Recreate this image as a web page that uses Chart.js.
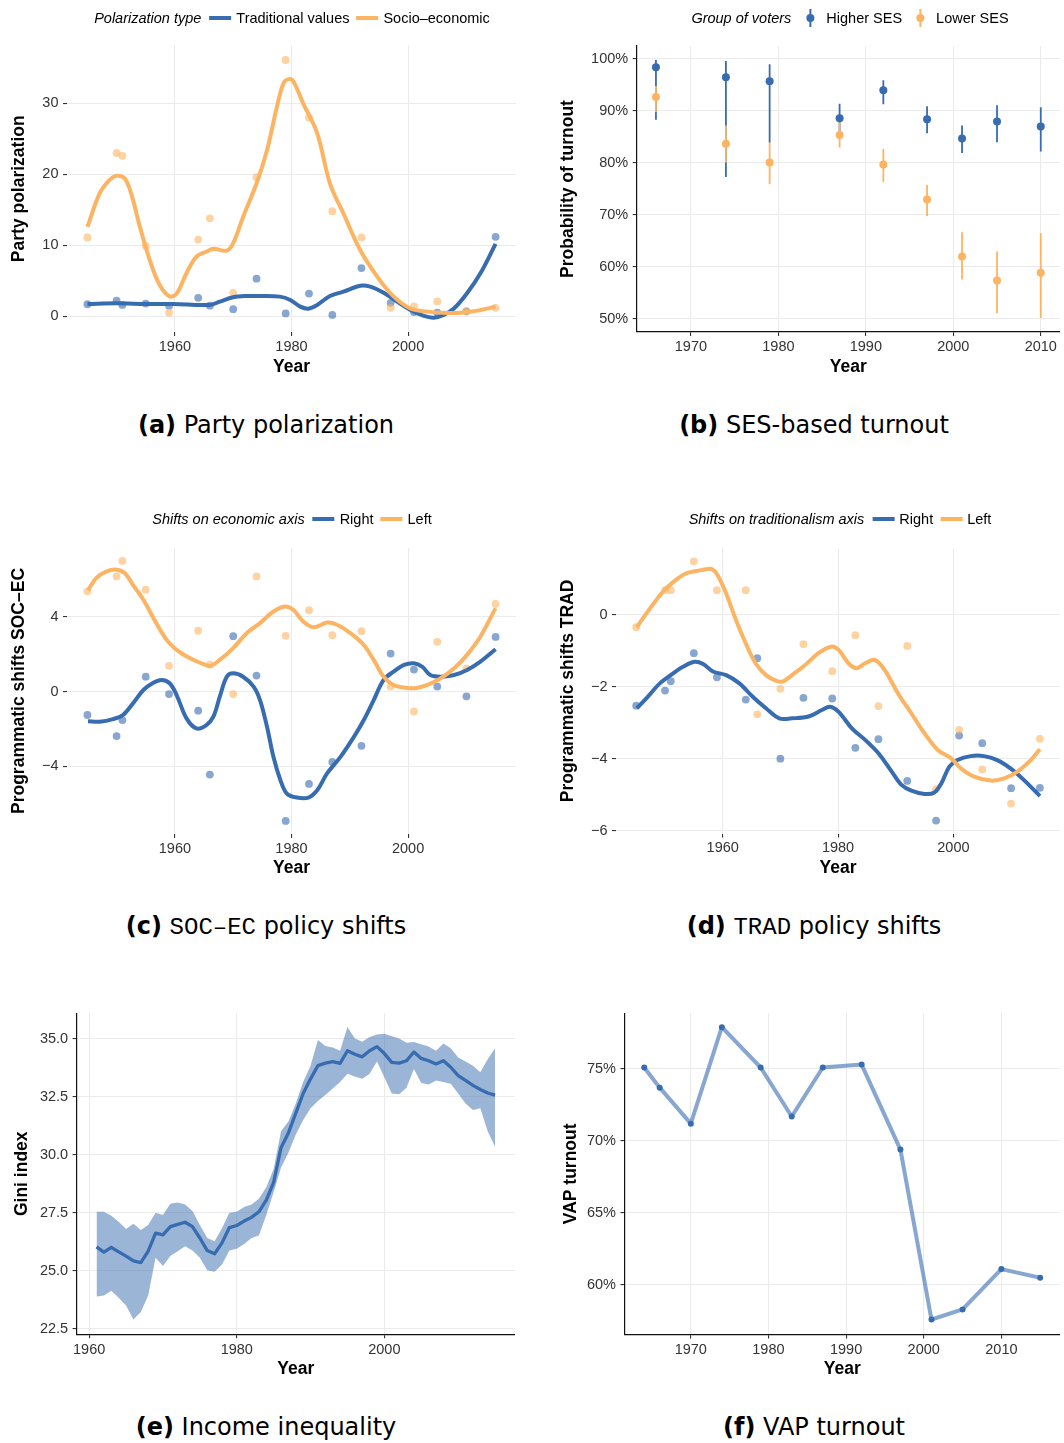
<!DOCTYPE html>
<html>
<head>
<meta charset="utf-8">
<title>Polarization, turnout and inequality</title>
<script src="https://cdn.jsdelivr.net/npm/chart.js@4.4.1/dist/chart.umd.min.js"></script>
<style>
  html, body { margin: 0; padding: 0; background: #fff; }
  #page { position: relative; width: 1064px; height: 1443px; overflow: hidden; font-family: 'Liberation Sans', Arial, sans-serif; }
  #page canvas { position: absolute; }
  .legend { position: absolute; display: flex; align-items: center; white-space: nowrap; font-size: 14.5px; color: #000; transform: translate(-50%, -50%); }
  .legend .ttl { font-style: italic; margin-right: 8px; }
  .legend .key { display: inline-block; width: 22px; height: 4px; margin-right: 5px; }
  .legend .lab { margin-right: 7px; }
  .legend .lab:last-child { margin-right: 0; }
  .legend .ekey { position: relative; display: inline-block; width: 22px; height: 18px; margin-right: 5px; }
  .legend .ekey::before { content: ''; position: absolute; left: 10px; top: 0; width: 2px; height: 18px; background: var(--c); }
  .legend .ekey::after { content: ''; position: absolute; left: 7px; top: 5px; width: 8px; height: 8px; border-radius: 50%; background: var(--c); }
  .caption { position: absolute; transform: translate(-50%, -50%); font-family: 'DejaVu Sans', sans-serif; font-size: 24px; white-space: nowrap; color: #000; }
  .caption .tt { font-family: 'Liberation Mono', monospace; }
</style>
</head>
<body>
<div id="page">
  <canvas id="chartA" width="532" height="390" style="left:0px;top:0px"></canvas>
  <canvas id="chartB" width="524" height="390" style="left:540px;top:0px"></canvas>
  <canvas id="chartC" width="532" height="390" style="left:0px;top:500px"></canvas>
  <canvas id="chartD" width="524" height="390" style="left:540px;top:500px"></canvas>
  <canvas id="chartE" width="532" height="390" style="left:0px;top:1000px"></canvas>
  <canvas id="chartF" width="524" height="390" style="left:540px;top:1000px"></canvas>

  <div class="legend" style="left:292px;top:18px">
    <span class="ttl">Polarization type</span>
    <span class="key" style="background:#386cb0"></span><span class="lab">Traditional values</span>
    <span class="key" style="background:#fdb462"></span><span class="lab">Socio&#8211;economic</span>
  </div>
  <div class="legend" style="left:850px;top:18px">
    <span class="ttl">Group of voters</span>
    <span class="ekey" style="--c:#386cb0"></span><span class="lab">Higher SES</span>
    <span class="ekey" style="--c:#fdb462"></span><span class="lab">Lower SES</span>
  </div>
  <div class="legend" style="left:292px;top:519px">
    <span class="ttl">Shifts on economic axis</span>
    <span class="key" style="background:#386cb0"></span><span class="lab">Right</span>
    <span class="key" style="background:#fdb462"></span><span class="lab">Left</span>
  </div>
  <div class="legend" style="left:840px;top:519px">
    <span class="ttl">Shifts on traditionalism axis</span>
    <span class="key" style="background:#386cb0"></span><span class="lab">Right</span>
    <span class="key" style="background:#fdb462"></span><span class="lab">Left</span>
  </div>

  <div class="caption" style="left:266px;top:425px"><b>(a)</b> Party polarization</div>
  <div class="caption" style="left:814px;top:425px"><b>(b)</b> SES-based turnout</div>
  <div class="caption" style="left:266px;top:926px"><b>(c)</b> <span class="tt">SOC&#8211;EC</span> policy shifts</div>
  <div class="caption" style="left:814px;top:926px"><b>(d)</b> <span class="tt">TRAD</span> policy shifts</div>
  <div class="caption" style="left:266px;top:1427px"><b>(e)</b> Income inequality</div>
  <div class="caption" style="left:814px;top:1427px"><b>(f)</b> VAP turnout</div>
</div>

<script>
// ---- Palette ----
const BLUE = '#386cb0';
const ORANGE = '#fdb462';
const BLUE_PT = 'rgba(56,108,176,0.6)';
const ORANGE_PT = 'rgba(253,180,98,0.6)';
const BLUE_BAND = 'rgba(56,108,176,0.5)';
const BLUE_LINE_LIGHT = 'rgba(56,108,176,0.6)';

// ---- General elections (panels a, c, d) ----
const elections = [1945, 1950, 1951, 1955, 1959, 1964, 1966, 1970, 1974, 1979, 1983, 1987, 1992, 1997, 2001, 2005, 2010, 2015];

// (a) Party polarization
const polTrad  = [1.7, 2.2, 1.6, 1.8, 1.5, 2.6, 1.5, 1.0, 5.3, 0.4, 3.2, 0.2, 6.8, 1.9, 0.6, 0.5, 0.7, 11.2];
const polSocio = [11.1, 23.0, 22.6, 9.9, 0.5, 10.8, 13.8, 3.3, 19.6, 36.1, 28.0, 14.8, 11.1, 1.2, 1.4, 2.1, 0.7, 1.2];
const polTradFitYears  = [1945, 1950, 1955.1, 1959.7, 1966, 1967.7, 1970, 1972.3, 1974.6, 1978, 1979.8, 1981.5, 1982.9, 1984.4, 1986.6, 1988.9, 1991.8, 1993.5, 1995.8, 1998.1, 2000.4, 2002.7, 2004.4, 2006.1, 2007.9, 2010.1, 2012.4, 2015];
const polTradFit       = [1.74, 1.83, 1.74, 1.74, 1.6, 2.07, 2.68, 2.86, 2.86, 2.77, 2.3, 1.36, 1.08, 1.6, 2.86, 3.47, 4.3, 4.18, 3.33, 2.07, 0.9, 0.05, -0.19, 0.19, 1.13, 3.24, 6.06, 10.2];
const polSocioFitYears = [1945, 1947.1, 1948.8, 1950, 1951.4, 1952.5, 1954, 1955.7, 1957.4, 1959.1, 1960.3, 1962, 1963.7, 1965.4, 1966.6, 1968.9, 1970, 1971.7, 1974, 1975.8, 1977.5, 1978.6, 1979.5, 1980.3, 1982, 1984.4, 1986.6, 1988.9, 1991.8, 1994.7, 1997.5, 2000.4, 2003.3, 2006.1, 2009, 2011.9, 2015];
const polSocioFit      = [12.6, 17.3, 19.2, 19.8, 19.4, 17.3, 12.6, 7.9, 4.4, 2.8, 3.2, 6.1, 8.4, 9.1, 9.5, 9.25, 10.3, 14.0, 18.7, 23.4, 29.5, 32.8, 33.4, 33.1, 30.0, 25.8, 18.7, 14.5, 9.3, 5.6, 2.8, 1.1, 0.66, 0.5, 0.5, 0.8, 1.36];

// (b) Turnout probability by SES group, with intervals
const sesYears  = [1966, 1974, 1979, 1987, 1992, 1997, 2001, 2005, 2010];
const higherSES = [98.4, 96.5, 95.7, 88.6, 94.0, 88.4, 84.7, 88.0, 87.0];
const higherLo  = [88.3, 77.3, 83.9, 85.8, 91.3, 85.7, 81.9, 84.0, 82.2];
const higherHi  = [99.8, 99.6, 99.0, 91.4, 95.9, 90.9, 87.2, 91.1, 90.7];
const lowerSES  = [92.7, 83.7, 80.1, 85.4, 79.7, 73.0, 62.0, 57.4, 58.9];
const lowerLo   = [89.8, 80.1, 75.9, 83.0, 76.3, 69.8, 57.6, 51.1, 50.2];
const lowerHi   = [94.8, 87.2, 84.0, 87.8, 82.7, 75.8, 66.7, 63.0, 66.5];

// (c) SOC-EC programmatic shifts
const econRight = [-1.25, -2.38, -1.52, 0.8, -0.13, -1.02, -4.44, 2.97, 0.86, -6.92, -4.94, -3.76, -2.9, 2.04, 1.18, 0.27, -0.25, 2.93];
const econLeft  = [5.37, 6.17, 7.0, 5.46, 1.38, 3.26, 1.45, -0.13, 6.17, 2.99, 4.36, 3.02, 3.24, 0.27, -1.06, 2.67, 1.25, 4.7];
const econRightFitYears = [1945.1, 1947.1, 1949.4, 1951.1, 1952.8, 1954.6, 1956.3, 1957.7, 1959.1, 1960.3, 1962, 1963.7, 1965.4, 1966.6, 1967.7, 1968.9, 1970, 1971.7, 1973.5, 1974.6, 1975.8, 1976.9, 1978.1, 1979.2, 1980.9, 1982.9, 1984.4, 1986.1, 1988.4, 1990.7, 1992.4, 1994.1, 1995.8, 1997.5, 1999.3, 2001, 2002.4, 2003.8, 2005.6, 2007.9, 2010.1, 2012.4, 2015];
const econRightFit      = [-1.59, -1.61, -1.47, -1.25, -0.63, 0.09, 0.48, 0.63, 0.45, -0.18, -1.43, -1.97, -1.79, -1.34, -0.27, 0.8, 0.98, 0.8, 0.27, -0.45, -1.88, -3.49, -4.74, -5.46, -5.67, -5.67, -5.28, -4.38, -3.49, -2.42, -1.52, -0.45, 0.63, 1.07, 1.43, 1.52, 1.34, 0.89, 0.8, 0.89, 1.16, 1.61, 2.27];
const econLeftFitYears  = [1945.1, 1946.5, 1948.3, 1950, 1951.4, 1952.8, 1954.6, 1956.8, 1958.6, 1960.3, 1962.6, 1964.9, 1966.1, 1967.7, 1970, 1972.3, 1974.6, 1976.9, 1978.9, 1980.3, 1982, 1983.8, 1986.1, 1987.8, 1990.1, 1992.4, 1994.1, 1995.8, 1997.5, 1999.8, 2001.5, 2003.3, 2005.6, 2007.9, 2010.1, 2012.4, 2015];
const econLeftFit       = [5.42, 6.08, 6.44, 6.53, 6.35, 5.72, 4.92, 3.67, 2.77, 2.24, 1.79, 1.48, 1.38, 1.7, 2.33, 3.13, 3.67, 4.29, 4.56, 4.38, 3.76, 3.45, 3.7, 3.58, 3.13, 2.5, 1.7, 0.8, 0.36, 0.2, 0.2, 0.36, 0.72, 1.25, 1.97, 2.95, 4.47];

// (d) TRAD programmatic shifts
const tradRight = [-2.52, -2.10, -1.84, -1.06, -1.73, -2.35, -1.2, -3.99, -2.3, -2.32, -3.69, -3.45, -4.61, -5.71, -3.35, -3.56, -4.81, -4.80];
const tradLeft  = [-0.34, 0.69, 0.69, 1.49, 0.69, 0.69, -2.76, -2.05, -0.81, -1.56, -0.56, -2.53, -0.86, -4.84, -3.19, -4.29, -5.24, -3.44];
const tradRightFitYears = [1945.1, 1946.8, 1949.1, 1951.4, 1953.1, 1955.1, 1956.6, 1958.3, 1960.6, 1962.9, 1965.2, 1967.5, 1969.8, 1972, 1974.9, 1977.2, 1978.6, 1980.1, 1982.4, 1984.7, 1987, 1989.3, 1991, 1992.7, 1995, 1996.7, 1997.9, 1999.3, 2000.7, 2003, 2005.3, 2007.6, 2009.9, 2012.2, 2015];
const tradRightFit      = [-2.59, -2.31, -1.9, -1.62, -1.44, -1.3, -1.36, -1.57, -1.67, -1.9, -2.27, -2.59, -2.87, -2.87, -2.82, -2.64, -2.55, -2.69, -3.15, -3.47, -3.84, -4.35, -4.72, -4.88, -4.97, -4.93, -4.68, -4.21, -4.03, -3.92, -3.92, -4.03, -4.26, -4.58, -5.03];
const tradLeftFitYears  = [1945.1, 1946.8, 1948.5, 1950, 1952, 1953.7, 1955.4, 1957.1, 1958.2, 1959.1, 1960.6, 1962.3, 1964, 1965.7, 1967.5, 1969.2, 1970.4, 1972, 1974.3, 1976.6, 1978.8, 1980.1, 1981.8, 1983.2, 1984.7, 1986.4, 1988.1, 1990.4, 1992.7, 1995, 1997.3, 1999.6, 2001.3, 2003.6, 2006.5, 2008.8, 2011.1, 2013.4, 2015];
const tradLeftFit       = [-0.34, 0.05, 0.42, 0.71, 0.99, 1.16, 1.22, 1.27, 1.27, 1.11, 0.6, -0.14, -0.79, -1.34, -1.67, -1.82, -1.85, -1.67, -1.39, -1.06, -0.88, -0.97, -1.34, -1.48, -1.34, -1.25, -1.53, -2.18, -2.73, -3.29, -3.75, -3.98, -4.26, -4.49, -4.6, -4.54, -4.35, -4.03, -3.73];

// (e) Gini index with uncertainty band
const giniYears = [1961, 1962, 1963, 1964, 1965, 1966, 1967, 1968, 1969, 1970, 1971, 1972, 1973, 1974, 1975, 1976, 1977, 1978, 1979, 1980,
                   1981, 1982, 1983, 1984, 1985, 1986, 1987, 1988, 1989, 1990, 1991, 1992, 1993, 1994, 1995, 1996, 1997, 1998, 1999, 2000,
                   2001, 2002, 2003, 2004, 2005, 2006, 2007, 2008, 2009, 2010, 2011, 2012, 2013, 2014, 2015];
const gini   = [26.03, 25.8, 26.01, 25.81, 25.63, 25.42, 25.35, 25.84, 26.62, 26.55, 26.9, 27.0, 27.09, 26.9, 26.41, 25.87, 25.73, 26.2, 26.86, 26.95,
                27.14, 27.3, 27.54, 28.04, 28.81, 30.3, 30.94, 31.79, 32.64, 33.27, 33.84, 33.95, 34.01, 33.94, 34.48, 34.33, 34.22, 34.48, 34.66, 34.36,
                33.98, 33.95, 34.05, 34.43, 34.15, 34.05, 33.91, 34.05, 33.77, 33.41, 33.2, 32.99, 32.81, 32.66, 32.57];
const giniLo = [23.89, 23.93, 24.14, 23.83, 23.5, 22.9, 23.22, 23.93, 25.56, 25.2, 25.63, 25.84, 26.05, 25.87, 25.56, 25.02, 24.96, 25.27, 25.87, 25.95,
                26.15, 26.41, 26.52, 27.4, 28.39, 29.45, 30.09, 30.87, 31.5, 32.0, 32.32, 32.57, 32.85, 33.13, 33.49, 33.37, 33.27, 33.49, 34.02, 33.34,
                32.64, 32.61, 32.89, 33.7, 33.09, 33.03, 33.2, 33.13, 33.06, 32.64, 32.21, 31.93, 32.0, 31.01, 30.34];
const giniHi = [27.54, 27.54, 27.37, 27.11, 26.8, 27.03, 26.76, 26.97, 27.5, 27.4, 27.89, 27.94, 27.85, 27.57, 26.97, 26.41, 26.27, 26.83, 27.5, 27.54,
                27.75, 27.85, 28.1, 28.6, 29.38, 31.01, 31.43, 32.21, 33.13, 33.84, 34.94, 34.69, 34.62, 34.48, 35.5, 35.01, 34.87, 35.07, 35.18, 35.21,
                35.11, 35.01, 34.83, 34.86, 34.76, 34.66, 34.48, 34.79, 34.59, 34.19, 34.02, 33.84, 33.56, 34.12, 34.59];

// (f) Voting-age-population turnout
const vapYears = [1964, 1966, 1970, 1974, 1979, 1983, 1987, 1992, 1997, 2001, 2005, 2010, 2015];
const vap      = [75.1, 73.7, 71.2, 77.9, 75.1, 71.7, 75.1, 75.3, 69.4, 57.6, 58.3, 61.1, 60.5];

// ---- Tick positions ----
const yearTicksWide = [1960, 1980, 2000];
const yearTicksDecade = [1970, 1980, 1990, 2000, 2010];
const polTicks = [0, 10, 20, 30];
const sesTicks = [50, 60, 70, 80, 90, 100];
const econTicks = [-4, 0, 4];
const tradTicks = [-6, -4, -2, 0];
const giniTicks = [22.5, 25.0, 27.5, 30.0, 32.5, 35.0];
const vapTicks = [60, 65, 70, 75];

// ---- Helpers ----
const xy = (xs, ys) => xs.map((x, i) => ({ x, y: ys[i] }));
const ranges = (xs, lo, hi) => xs.map((x, i) => ({ x, y: [lo[i], hi[i]] }));
const minus = v => (v < 0 ? '\u2212' + Math.abs(v) : String(v));

const TICK_FONT = { family: "'Liberation Sans', Arial, sans-serif", size: 14.5 };
const TITLE_FONT = { family: "'Liberation Sans', Arial, sans-serif", size: 17.5, weight: 'bold' };

function scatterSet(xs, ys, color, order) {
  return { type: 'scatter', data: xy(xs, ys), backgroundColor: color, borderWidth: 0,
           pointRadius: 3.9, pointHoverRadius: 3.9, order };
}
function curveSet(xs, ys, color, order) {
  return { type: 'line', data: xy(xs, ys), borderColor: color, borderWidth: 4, tension: 0.35,
           pointRadius: 0, fill: false, borderJoinStyle: 'round', order };
}

function makeChart(id, datasets, o) {
  const gridX = { color: '#ebebeb', lineWidth: 1.1, tickColor: '#333', tickLength: 4, drawTicks: true, offset: false };
  const gridY = { color: '#ebebeb', lineWidth: 1.1, tickColor: '#333', tickLength: 4, drawTicks: true };
  const border = { display: o.border, color: '#111', width: 1.2 };
  return new Chart(document.getElementById(id), {
    type: 'scatter',
    data: { datasets },
    options: {
      responsive: false,
      animation: false,
      events: [],
      layout: { padding: { top: o.top, right: o.right, left: 0, bottom: 0 } },
      plugins: { legend: { display: false }, tooltip: { enabled: false } },
      scales: {
        x: {
          type: 'linear', min: o.xMin, max: o.xMax, offset: false,
          afterBuildTicks: s => { s.ticks = o.xTicks.map(v => ({ value: v })); },
          afterFit: s => { s.height = o.xHeight; },
          grid: gridX, border,
          ticks: { color: '#333', font: TICK_FONT, padding: o.xTickPad, maxRotation: 0, autoSkip: false,
                   callback: v => String(v) },
          title: { display: true, text: 'Year', color: '#000', font: TITLE_FONT,
                   padding: { top: 0, bottom: o.xTitlePad } }
        },
        y: {
          type: 'linear', min: o.yMin, max: o.yMax, beginAtZero: false,
          afterBuildTicks: s => { s.ticks = o.yTicks.map(v => ({ value: v })); },
          afterFit: s => { s.width = o.yWidth; },
          grid: gridY, border,
          ticks: { color: '#333', font: TICK_FONT, padding: 4.5, autoSkip: false, callback: o.yFmt },
          title: { display: true, text: o.yTitle, color: '#000', font: TITLE_FONT,
                   padding: { top: o.yTitlePad, bottom: 0 } }
        }
      }
    }
  });
}

// (a) Party polarization
makeChart('chartA', [
  curveSet(polSocioFitYears, polSocioFit, ORANGE, 0),
  curveSet(polTradFitYears, polTradFit, BLUE, 1),
  scatterSet(elections, polSocio, ORANGE_PT, 2),
  scatterSet(elections, polTrad, BLUE_PT, 3)
], { top: 45.5, right: 16, xHeight: 58, yWidth: 67, xMin: 1941.5, xMax: 2018.5, yMin: -2.21, yMax: 38.14,
     xTicks: yearTicksWide, yTicks: polTicks, yFmt: v => String(v), yTitle: 'Party polarization',
     yTitlePad: 8.5, xTickPad: 2, xTitlePad: 12.5, border: false });

// (b) SES-based turnout: floating bars serve as the interval whiskers
makeChart('chartB', [
  { type: 'scatter', data: xy(sesYears, lowerSES), backgroundColor: ORANGE, borderWidth: 0, pointRadius: 4, order: 0 },
  { type: 'bar', data: ranges(sesYears, lowerLo, lowerHi), backgroundColor: ORANGE, borderWidth: 0,
    grouped: false, maxBarThickness: 1.8, order: 1 },
  { type: 'scatter', data: xy(sesYears, higherSES), backgroundColor: BLUE, borderWidth: 0, pointRadius: 4, order: 2 },
  { type: 'bar', data: ranges(sesYears, higherLo, higherHi), backgroundColor: BLUE, borderWidth: 0,
    grouped: false, maxBarThickness: 1.8, order: 3 }
], { top: 46, right: 0.7, xHeight: 58, yWidth: 96.7, xMin: 1963.8, xMax: 2012.2, yMin: 47.5, yMax: 102.5,
     xTicks: yearTicksDecade, yTicks: sesTicks, yFmt: v => v + '%', yTitle: 'Probability of turnout',
     yTitlePad: 17.5, xTickPad: 2, xTitlePad: 12.5, border: true });

// (c) SOC-EC policy shifts
makeChart('chartC', [
  curveSet(econLeftFitYears, econLeftFit, ORANGE, 0),
  curveSet(econRightFitYears, econRightFit, BLUE, 1),
  scatterSet(elections, econLeft, ORANGE_PT, 2),
  scatterSet(elections, econRight, BLUE_PT, 3)
], { top: 48, right: 16, xHeight: 56, yWidth: 67, xMin: 1941.5, xMax: 2018.5, yMin: -7.62, yMax: 7.69,
     xTicks: yearTicksWide, yTicks: econTicks, yFmt: minus, yTitle: 'Programmatic shifts SOC\u2013EC',
     yTitlePad: 8.5, xTickPad: 2, xTitlePad: 11.5, border: false });

// (d) TRAD policy shifts
makeChart('chartD', [
  curveSet(tradLeftFitYears, tradLeftFit, ORANGE, 0),
  curveSet(tradRightFitYears, tradRightFit, BLUE, 1),
  scatterSet(elections, tradLeft, ORANGE_PT, 2),
  scatterSet(elections, tradRight, BLUE_PT, 3)
], { top: 48.4, right: 0.8, xHeight: 56.5, yWidth: 76, xMin: 1941.5, xMax: 2018.5, yMin: -6.07, yMax: 1.85,
     xTicks: yearTicksWide, yTicks: tradTicks, yFmt: minus, yTitle: 'Programmatic shifts TRAD',
     yTitlePad: 17.5, xTickPad: 2, xTitlePad: 11.5, border: false });

// (e) Income inequality: band between lower and upper bounds, estimate on top
makeChart('chartE', [
  { type: 'line', data: xy(giniYears, gini), borderColor: BLUE, borderWidth: 3.3, tension: 0, pointRadius: 0,
    fill: false, borderJoinStyle: 'round', order: 0 },
  { type: 'line', data: xy(giniYears, giniLo), borderColor: 'transparent', borderWidth: 0, pointRadius: 0,
    tension: 0, fill: false, order: 2 },
  { type: 'line', data: xy(giniYears, giniHi), borderColor: 'transparent', borderWidth: 0, pointRadius: 0,
    tension: 0, fill: '-1', backgroundColor: BLUE_BAND, order: 1 }
], { top: 8.4, right: 17, xHeight: 55.7, yWidth: 76.6, xMin: 1958.3, xMax: 2017.7, yMin: 22.26, yMax: 36.1,
     xTicks: yearTicksWide, yTicks: giniTicks, yFmt: v => v.toFixed(1), yTitle: 'Gini index',
     yTitlePad: 11.5, xTickPad: 2.5, xTitlePad: 10.5, border: true });

// (f) VAP turnout
makeChart('chartF', [
  { type: 'line', data: xy(vapYears, vap), borderColor: BLUE_LINE_LIGHT, borderWidth: 4, tension: 0,
    pointRadius: 3, pointBackgroundColor: BLUE, pointBorderWidth: 0, fill: false, borderJoinStyle: 'round', order: 0 }
], { top: 6.8, right: 0.6, xHeight: 55.5, yWidth: 84.4, xMin: 1961.45, xMax: 2017.55, yMin: 56.56, yMax: 78.87,
     xTicks: yearTicksDecade, yTicks: vapTicks, yFmt: v => v + '%', yTitle: 'VAP turnout',
     yTitlePad: 20.5, xTickPad: 2.5, xTitlePad: 10.5, border: true });
</script>
</body>
</html>
